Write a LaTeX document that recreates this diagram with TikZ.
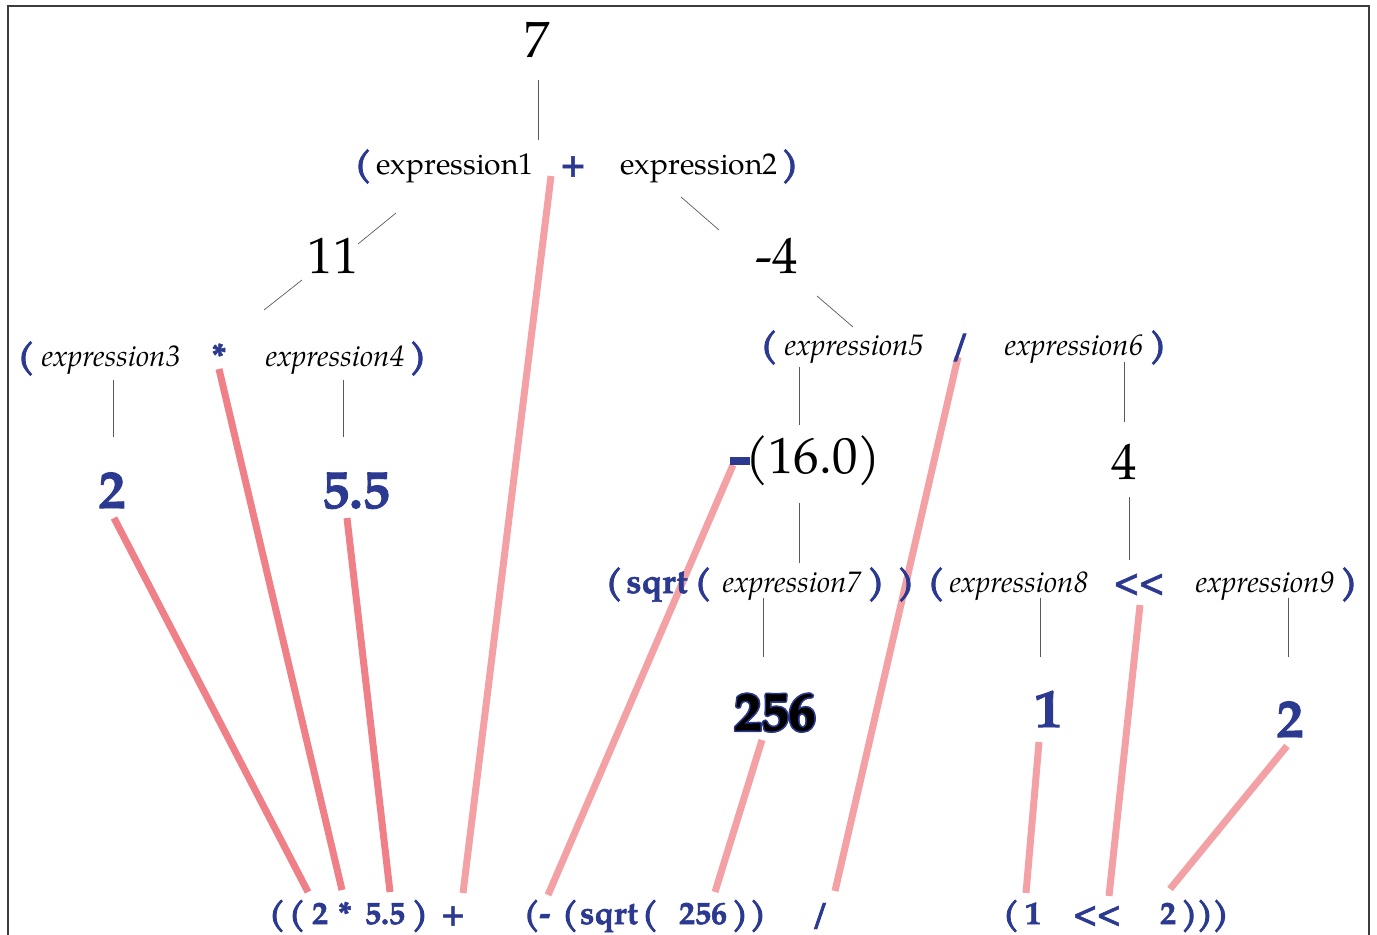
\documentclass[tikz,border=0pt]{standalone}
\usepackage{fontspec}
\setmainfont{texgyrepagella}[Extension=.otf,UprightFont=*-regular,BoldFont=*-bold,ItalicFont=*-italic,BoldItalicFont=*-bolditalic]
\newfontfamily\heavyfont{texgyrepagella}[Extension=.otf,UprightFont=*-bold,FakeBold=1.6]
\newfontfamily\parenfont{texgyrepagella}[Extension=.otf,UprightFont=*-bold,FakeBold=3]
\usetikzlibrary{calc}
\definecolor{ablue}{RGB}{43,57,144}
\definecolor{pinkA}{RGB}{240,128,136}
\definecolor{pinkB}{RGB}{244,161,166}
\definecolor{framec}{RGB}{60,60,60}
\pgfdeclarelayer{bg}
\pgfsetlayers{bg,main}
\newcommand\oshift[3]{\rlap{\kern#1\raisebox{#2}{#3}}}
\newcommand\outl[1]{{\color{ablue}\oshift{-0.8pt}{0pt}{#1}\oshift{0.8pt}{0pt}{#1}\oshift{0pt}{0.8pt}{#1}\oshift{0pt}{-0.8pt}{#1}\oshift{0.6pt}{0.6pt}{#1}\oshift{-0.6pt}{0.6pt}{#1}\oshift{0.6pt}{-0.6pt}{#1}\oshift{-0.6pt}{-0.6pt}{#1}}{\color{black}#1}}
\begin{document}
\begin{tikzpicture}[x=0.5pt,y=-0.5pt,
  tok/.style={anchor=base,inner sep=0pt,outer sep=0pt},
  rom/.style={tok,font=\fontsize{15}{18}\selectfont},
  ital/.style={tok,font=\fontsize{14.8}{17}\selectfont\itshape},
  bl/.style={tok,text=ablue,font=\fontsize{17}{20}\selectfont\heavyfont},
  blp/.style={tok,text=ablue,font=\fontsize{17}{20}\selectfont\parenfont},
  bot/.style={tok,text=ablue,font=\fontsize{16}{19}\selectfont\heavyfont},
  botp/.style={tok,text=ablue,font=\fontsize{16}{19}\selectfont\parenfont},
  big/.style={tok,font=\fontsize{25.5}{30}\selectfont},
  bignum/.style={tok,text=ablue,font=\fontsize{27}{31}\selectfont\heavyfont},
  tree/.style={draw=black!65,line width=0.35pt},
  linkA/.style={draw=pinkA,line width=3.5pt},
  linkB/.style={draw=pinkB,line width=3.5pt},
  framel/.style={draw=framec,line width=1pt}]
\useasboundingbox (0,0) rectangle (1377,935);
\draw[framel] (8,935) -- (8,6) -- (1369,6) -- (1369,935);

% top
\node[big] (n7) at (537,58) {7};
\node[blp] (lp1) at (363,175) {(};
\node[rom] (e1) at (455,175) {expression1};
\node[bl] (op1) at (573,175) {+};
\node[rom] (e2) at (699,175) {expression2};
\node[blp] (rp1) at (790,175) {)};
\node[big] (n11) at (333,274) {11};
\node[big] (nm4) at (777,274) {-4};

% row 2
\node[blp] (lp3) at (26,367) {(};
\node[ital] (e3) at (111,367) {expression3};
\node[bl] (op2) at (219,367) {*};
\node[ital] (e4) at (335,367) {expression4};
\node[blp] (rp3) at (418,367) {)};
\node[blp] (lp5) at (769,356) {(};
\node[ital] (e5) at (854,356) {expression5};
\node[blp] (op3) at (960,356) {/};
\node[ital] (e6) at (1074,356) {expression6};
\node[blp] (rp5) at (1158,356) {)};

% values
\node[bignum] (v2) at (112,508) {2};
\node[bignum] (v55) at (356,508) {5.5};
\node[tok,text=ablue] (neg) at (740,474) {\rule[4.5pt]{10pt}{4pt}};
\node[big] (v16) at (813,474) {(16.0)};
\node[big] (v4) at (1124,480) {4};

% row 3
\node[blp] (lp7) at (614,593) {(};
\node[bl] (sq) at (657,593) {sqrt};
\node[blp] (lp7b) at (703,593) {(};
\node[ital] (e7) at (792,593) {expression7};
\node[blp] (rp7) at (876,593) {)};
\node[blp] (rp7b) at (906,593) {)};
\node[blp] (lp8) at (936,593) {(};
\node[ital] (e8) at (1019,593) {expression8};
\node[bl] (op4) at (1139,593) {<\kern-0.5pt<};
\node[ital] (e9) at (1265,593) {expression9};
\node[blp] (rp9) at (1349,593) {)};

\node[tok,font=\fontsize{27}{31}\selectfont\heavyfont] (v256) at (775,730) {\outl{256}};
\node[bignum] (v1) at (1048,727) {1};
\node[bignum] (v2b) at (1290,737) {2};

% bottom expression
\node[botp] (b1) at (277,924) {(};
\node[botp] (b2) at (297,924) {(};
\node[bot] (b3) at (320,924) {2};
\node[bot] (b4) at (345,924) {*};
\node[bot] (b5) at (385,924) {5.5};
\node[botp] (b6) at (420,924) {)};
\node[bot] (b7) at (453,924) {+};
\node[botp] (b8) at (537,924) {(-};
\node[botp] (b9) at (570,924) {(};
\node[bot] (b10) at (609,924) {sqrt};
\node[botp] (b11) at (650,924) {(};
\node[bot] (b12) at (703,924) {256};
\node[botp] (b13) at (740,924) {)};
\node[botp] (b14) at (758,924) {)};
\node[botp] (b15) at (820,924) {/};
\node[botp] (b16) at (1011,924) {(};
\node[bot] (b17) at (1033,924) {1};
\node[bot] (b18) at (1097,924) {<\kern-0.5pt<};
\node[bot] (b19) at (1168,924) {2};
\node[botp] (b20) at (1205,924) {)))};

\begin{pgfonlayer}{bg}
% tree lines
\draw[tree] ($(n7.base)+(1,22)$) -- ($(op1.base)+(-35,-35)$);
\draw[tree] ($(e1.base)+(-59,38)$) -- ($(n11.base)+(25,-30)$);
\draw[tree] ($(e2.base)+(-18,22)$) -- ($(nm4.base)+(-58,-44)$);
\draw[tree] ($(n11.base)+(-31,6)$) -- ($(op2.base)+(45,-57)$);
\draw[tree] ($(nm4.base)+(40,22)$) -- ($(e5.base)+(-1,-29)$);
\draw[tree] ($(e3.base)+(2,13)$) -- ($(v2.base)+(1,-71)$);
\draw[tree] ($(e4.base)+(8,13)$) -- ($(v55.base)+(-13,-71)$);
\draw[tree] ($(e5.base)+(-55,11)$) -- ($(v16.base)+(-14,-49)$);
\draw[tree] ($(e6.base)+(50,6)$) -- ($(v4.base)+(0,-58)$);
\draw[tree] ($(v16.base)+(-14,29)$) -- ($(e7.base)+(7,-30)$);
\draw[tree] ($(v4.base)+(5,17)$) -- ($(op4.base)+(-10,-33)$);
\draw[tree] ($(e7.base)+(-29,5)$) -- ($(v256.base)+(-12,-73)$);
\draw[tree] ($(e8.base)+(21,5)$) -- ($(v1.base)+(-8,-70)$);
\draw[tree] ($(e9.base)+(23,5)$) -- ($(v2b.base)+(-2,-80)$);
% links to the source expression
\draw[linkA] ($(v2.base)+(2,10)$) -- ($(b3.base)+(-12,-32)$);
\draw[linkA] ($(op2.base)+(0,2)$) -- ($(b4.base)+(-3,-34)$);
\draw[linkA] ($(v55.base)+(-9,10)$) -- ($(b5.base)+(5,-32)$);
\draw[linkB] ($(op1.base)+(-22,1)$) -- ($(b7.base)+(10,-31)$);
\draw[linkB] ($(neg.base)+(-7,-9)$) -- ($(b8.base)+(11,-29)$);
\draw[linkB] ($(v256.base)+(-13,10)$) -- ($(b12.base)+(12,-32)$);
\draw[linkB] ($(op3.base)+(-2,1)$) -- ($(b15.base)+(15,-33)$);
\draw[linkB] ($(v1.base)+(-9,15)$) -- ($(b17.base)+(-7,-31)$);
\draw[linkB] ($(op4.base)+(1,12)$) -- ($(b18.base)+(12,-28)$);
\draw[linkB] ($(v2b.base)+(-3,9)$) -- ($(b19.base)+(2,-35)$);
\end{pgfonlayer}
\end{tikzpicture}
\end{document}
